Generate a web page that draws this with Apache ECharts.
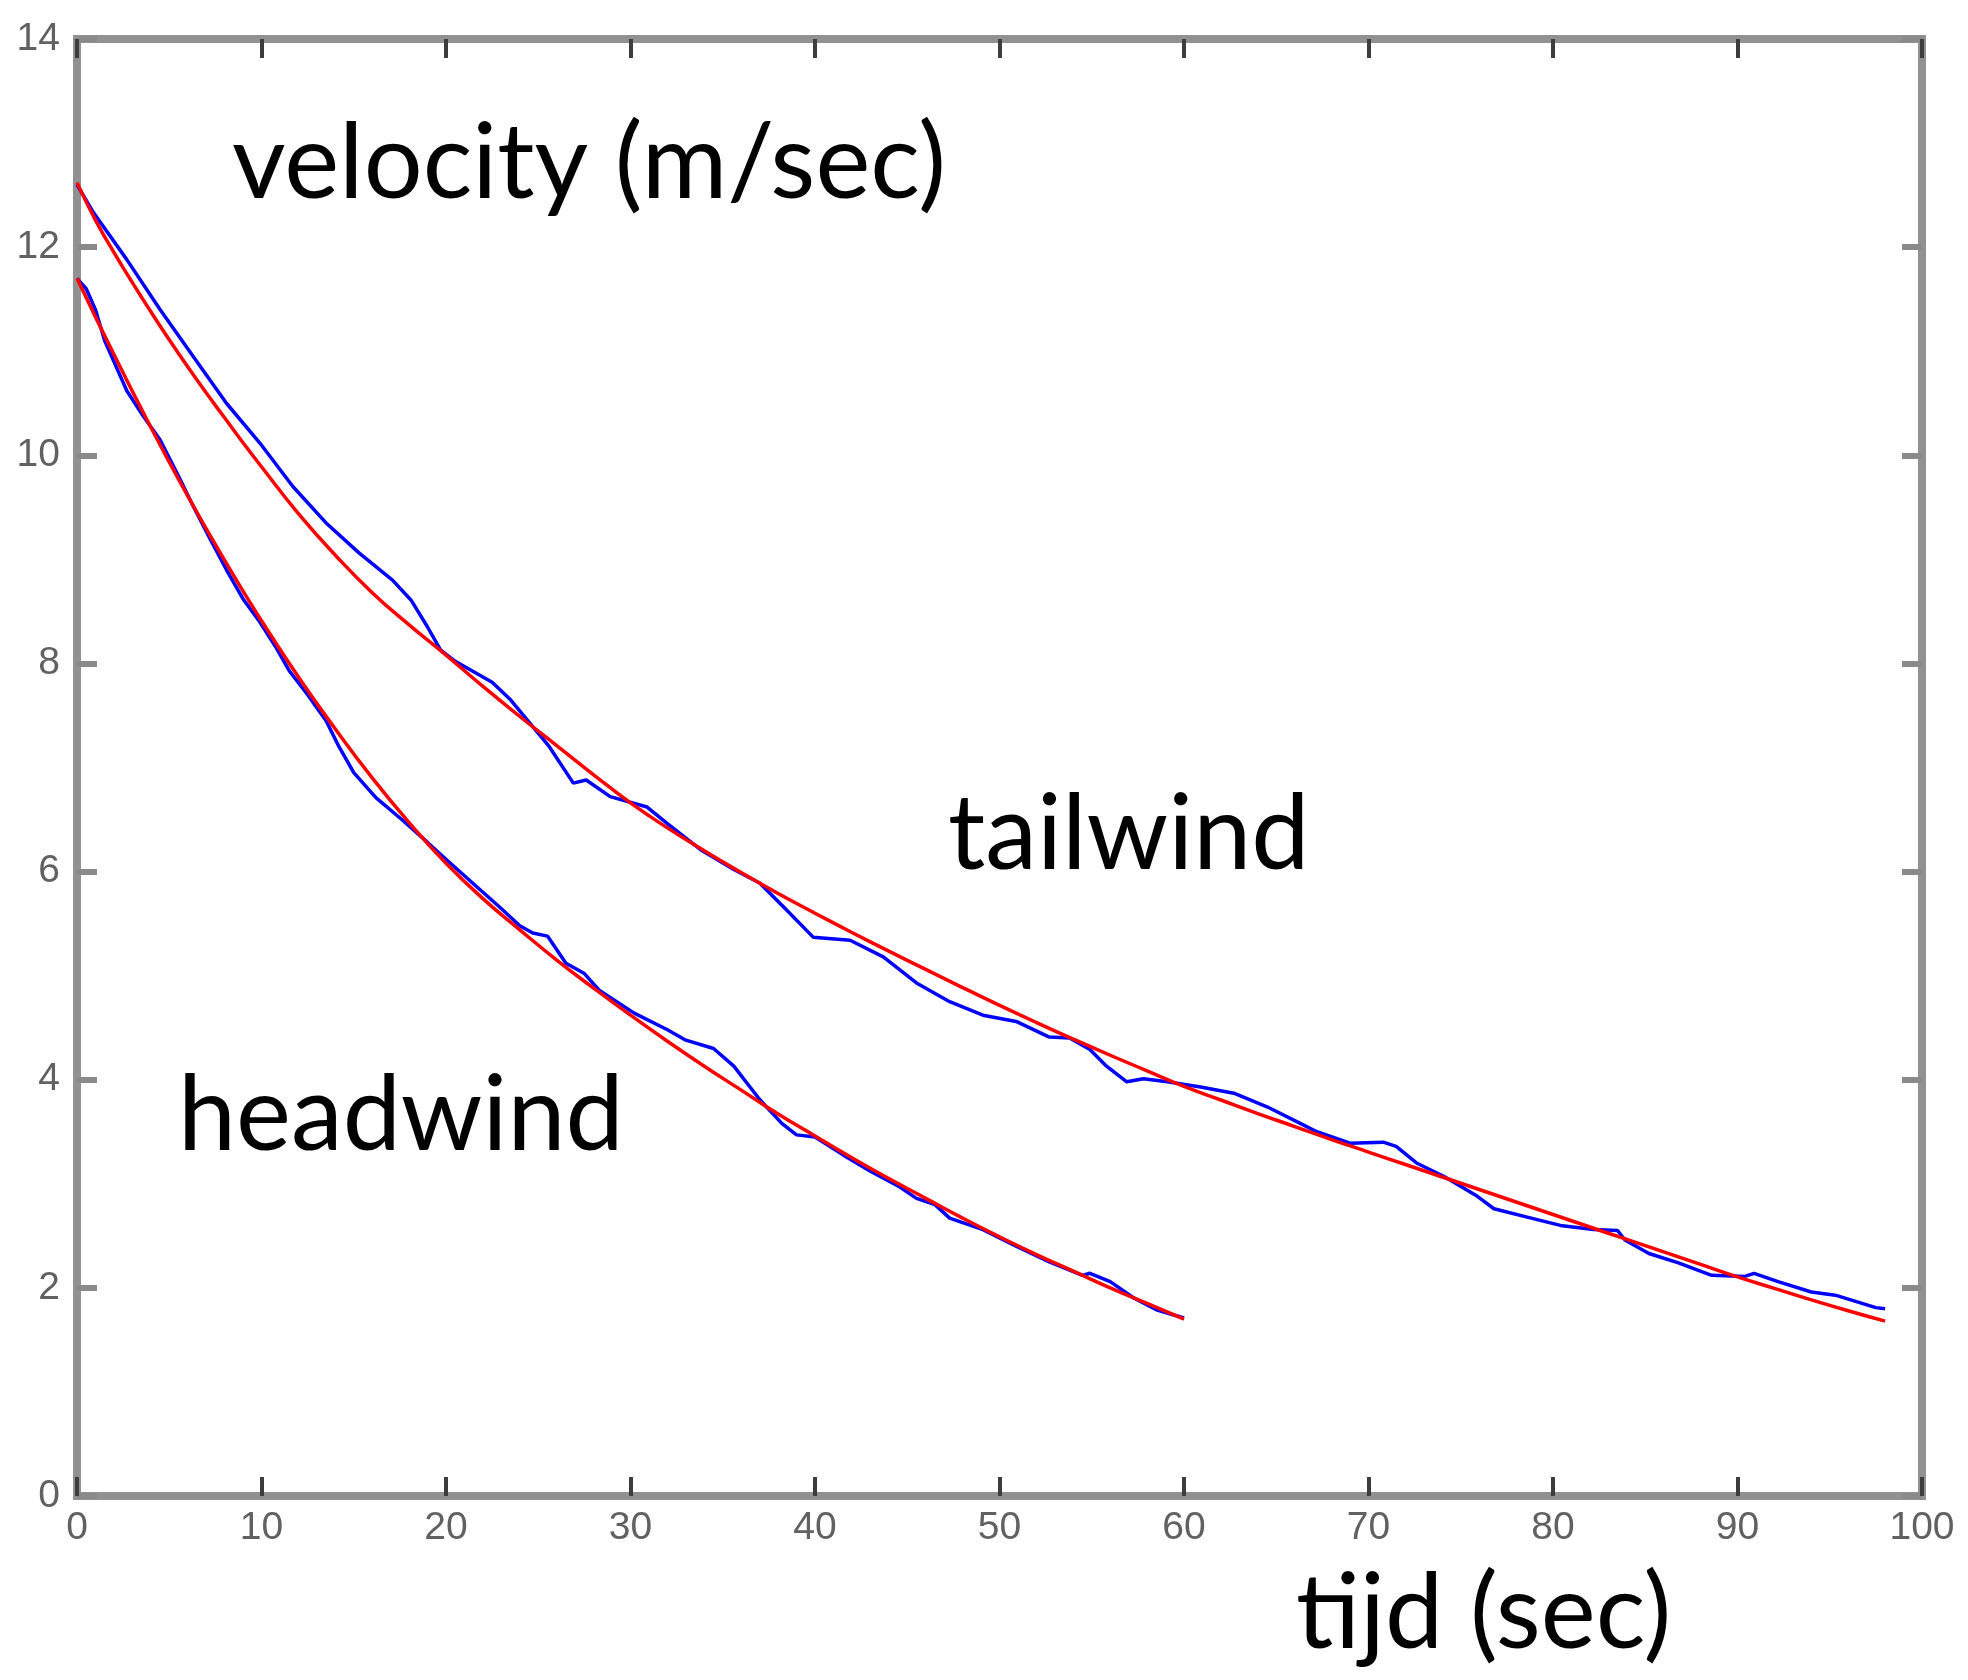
<!DOCTYPE html>
<html>
<head>
<meta charset="utf-8">
<title>velocity (m/sec) – tailwind / headwind</title>
<script src="https://cdn.jsdelivr.net/npm/echarts@6/dist/echarts.min.js"></script>
<style>
  html, body { margin: 0; padding: 0; background: #ffffff; }
  #chart { width: 1968px; height: 1680px; }
</style>
</head>
<body>
<div id="chart"></div>
<script>
// Axis ticks
const timeTicks = [0, 10, 20, 30, 40, 50, 60, 70, 80, 90, 100];
const velocityTicks = [0, 2, 4, 6, 8, 10, 12, 14];

// Tailwind run: measured velocity (blue)
const tailMeasuredT = [0, 0.9, 2.7, 4.5, 6.3, 8.1, 9.9, 11.7, 13.5, 15.3, 17.1, 18.1, 19.0, 19.7, 20.5, 21.5, 22.5, 23.5, 25.6, 26.9, 27.6, 28.9, 30.9, 32.0, 33.8, 35.6, 37.0, 38.3, 39.9, 41.9, 43.7, 45.5, 47.3, 49.1, 50.9, 52.7, 53.8, 54.9, 55.8, 56.9, 57.8, 59.1, 60.9, 62.7, 64.5, 66.3, 67.2, 69.0, 70.8, 71.5, 72.6, 74.1, 75.9, 76.8, 78.6, 80.4, 82.2, 83.5, 83.9, 85.2, 86.8, 88.6, 90.4, 90.9, 92.2, 94.0, 95.3, 97.5, 98.0];
const tailMeasuredV = [12.60, 12.33, 11.88, 11.40, 10.95, 10.50, 10.12, 9.70, 9.35, 9.06, 8.80, 8.61, 8.35, 8.13, 8.02, 7.92, 7.82, 7.65, 7.20, 6.85, 6.88, 6.72, 6.62, 6.46, 6.21, 6.02, 5.89, 5.66, 5.37, 5.34, 5.18, 4.93, 4.75, 4.62, 4.56, 4.41, 4.40, 4.29, 4.13, 3.98, 4.01, 3.98, 3.93, 3.87, 3.74, 3.58, 3.50, 3.39, 3.40, 3.36, 3.20, 3.07, 2.88, 2.76, 2.68, 2.60, 2.56, 2.55, 2.46, 2.33, 2.24, 2.12, 2.11, 2.14, 2.06, 1.96, 1.93, 1.81, 1.80];

// Tailwind run: fitted curve (red)
const tailFitT = [0, 1, 2, 3, 4, 5, 6, 7, 8, 9, 10, 12, 14, 16, 18, 20, 22, 24, 26, 28, 30, 32, 34, 36, 38, 40, 42, 44, 46, 48, 50, 52, 54, 56, 58, 60, 62, 64, 66, 68, 70, 72, 74, 76, 78, 80, 82, 84, 86, 88, 90, 92, 94, 96, 98];
const tailFitV = [12.62, 12.26, 11.95, 11.66, 11.38, 11.11, 10.85, 10.60, 10.36, 10.12, 9.89, 9.44, 9.04, 8.68, 8.37, 8.08, 7.78, 7.49, 7.21, 6.93, 6.66, 6.42, 6.20, 5.99, 5.79, 5.60, 5.415, 5.235, 5.06, 4.885, 4.715, 4.55, 4.39, 4.235, 4.085, 3.935, 3.805, 3.675, 3.55, 3.425, 3.305, 3.185, 3.065, 2.945, 2.825, 2.705, 2.585, 2.465, 2.345, 2.225, 2.105, 1.995, 1.885, 1.78, 1.68];

// Headwind run: measured velocity (blue)
const headMeasuredT = [0, 0.5, 1.0, 1.5, 2.0, 2.7, 3.5, 4.5, 5.5, 6.3, 7.2, 8.1, 9.0, 9.9, 10.8, 11.5, 12.5, 13.5, 14.2, 15.0, 16.2, 17.6, 19.0, 20.3, 21.5, 22.9, 24.0, 24.7, 25.5, 26.5, 27.5, 28.3, 30.2, 32.0, 33.0, 34.5, 35.6, 37.0, 38.2, 39.0, 40.0, 41.5, 43.0, 44.5, 45.5, 46.5, 47.3, 49.1, 50.9, 52.7, 54.5, 54.9, 56.0, 57.3, 58.5, 60.0];
const headMeasuredV = [11.70, 11.60, 11.40, 11.10, 10.90, 10.62, 10.40, 10.15, 9.80, 9.51, 9.20, 8.90, 8.62, 8.40, 8.15, 7.93, 7.70, 7.45, 7.20, 6.95, 6.71, 6.50, 6.28, 6.07, 5.88, 5.66, 5.48, 5.41, 5.38, 5.12, 5.02, 4.86, 4.64, 4.48, 4.38, 4.30, 4.13, 3.81, 3.58, 3.47, 3.45, 3.28, 3.12, 2.98, 2.86, 2.80, 2.67, 2.56, 2.40, 2.25, 2.12, 2.14, 2.06, 1.90, 1.79, 1.71];

// Headwind run: fitted curve (red)
const headFitT = [0, 1, 2, 3, 4, 5, 6, 7, 8, 9, 10, 12, 14, 16, 18, 20, 22, 24, 26, 28, 30, 32, 34, 36, 38, 40, 42, 44, 46, 48, 50, 52, 54, 56, 58, 60];
const headFitV = [11.70, 11.33, 10.97, 10.615, 10.27, 9.935, 9.61, 9.295, 8.99, 8.695, 8.41, 7.87, 7.37, 6.90, 6.47, 6.08, 5.74, 5.44, 5.15, 4.88, 4.62, 4.37, 4.13, 3.90, 3.67, 3.46, 3.25, 3.05, 2.86, 2.67, 2.49, 2.32, 2.16, 2.00, 1.85, 1.70];

// Text placed on the plot
const titleText = 'velocity (m/sec)';
const tailLabel = 'tailwind';
const headLabel = 'headwind';
const timeLabel = 'tijd (sec)';

const pairs = (ts, vs) => ts.map((t, i) => [t, vs[i]]);

const FRAME = '#919191';
const tickFont = { fontFamily: 'Liberation Sans', fontSize: 39, color: '#616161' };
const noteFont = 'Lato';
const noteSize = 104;

const chart = echarts.init(document.getElementById('chart'), null, { renderer: 'canvas' });

const xCommon = {
  type: 'value',
  min: timeTicks[0],
  max: timeTicks[timeTicks.length - 1],
  interval: timeTicks[1] - timeTicks[0],
  axisLine: { show: false, onZero: false },
  splitLine: { show: false },
  axisTick: { show: true, inside: true, length: 19, lineStyle: { color: '#3d3d3d', width: 4 } }
};
const yCommon = {
  type: 'value',
  min: velocityTicks[0],
  max: velocityTicks[velocityTicks.length - 1],
  interval: velocityTicks[1] - velocityTicks[0],
  axisLine: { show: false, onZero: false },
  splitLine: { show: false },
  axisTick: { show: true, inside: true, length: 20, lineStyle: { color: '#8a8a8a', width: 6 } }
};

const option = {
  backgroundColor: '#ffffff',
  animation: false,
  grid: {
    left: 77, right: 46, top: 39, bottom: 184,
    show: true,
    borderColor: FRAME,
    borderWidth: 8,
    backgroundColor: 'transparent'
  },
  xAxis: [
    Object.assign({}, xCommon, {
      position: 'bottom',
      axisLabel: Object.assign({ show: true, margin: 13 }, tickFont)
    }),
    Object.assign({}, xCommon, {
      position: 'top',
      axisLabel: { show: false }
    })
  ],
  yAxis: [
    Object.assign({}, yCommon, {
      position: 'left',
      axisLabel: Object.assign({ show: true, margin: 17, padding: [0, 0, 13, 0] }, tickFont)
    }),
    Object.assign({}, yCommon, {
      position: 'right',
      axisLabel: { show: false }
    })
  ],
  series: [
    {
      name: 'tailwind measured', type: 'line', xAxisIndex: 0, yAxisIndex: 0,
      data: pairs(tailMeasuredT, tailMeasuredV), showSymbol: false, smooth: false,
      lineStyle: { color: '#0000ff', width: 3.5 }, z: 3
    },
    {
      name: 'headwind measured', type: 'line', xAxisIndex: 0, yAxisIndex: 0,
      data: pairs(headMeasuredT, headMeasuredV), showSymbol: false, smooth: false,
      lineStyle: { color: '#0000ff', width: 3.5 }, z: 3
    },
    {
      name: 'tailwind fit', type: 'line', xAxisIndex: 0, yAxisIndex: 0,
      data: pairs(tailFitT, tailFitV), showSymbol: false, smooth: true,
      lineStyle: { color: '#ff0000', width: 3.5 }, z: 4
    },
    {
      name: 'headwind fit', type: 'line', xAxisIndex: 0, yAxisIndex: 0,
      data: pairs(headFitT, headFitV), showSymbol: false, smooth: true,
      lineStyle: { color: '#ff0000', width: 3.5 }, z: 4
    }
  ],
  graphic: [
    { type: 'text', left: 232, top: 112, z: 10,
      style: { text: titleText, font: noteSize + 'px ' + noteFont, fill: '#000000' } },
    { type: 'text', left: 948, top: 783, z: 10,
      style: { text: tailLabel, font: noteSize + 'px ' + noteFont, fill: '#000000' } },
    { type: 'text', left: 178, top: 1064, z: 10,
      style: { text: headLabel, font: noteSize + 'px ' + noteFont, fill: '#000000' } },
    { type: 'text', left: 1296, top: 1562, z: 10,
      style: { text: timeLabel, font: noteSize + 'px ' + noteFont, fill: '#000000' } }
  ]
};

chart.setOption(option);
</script>
</body>
</html>
